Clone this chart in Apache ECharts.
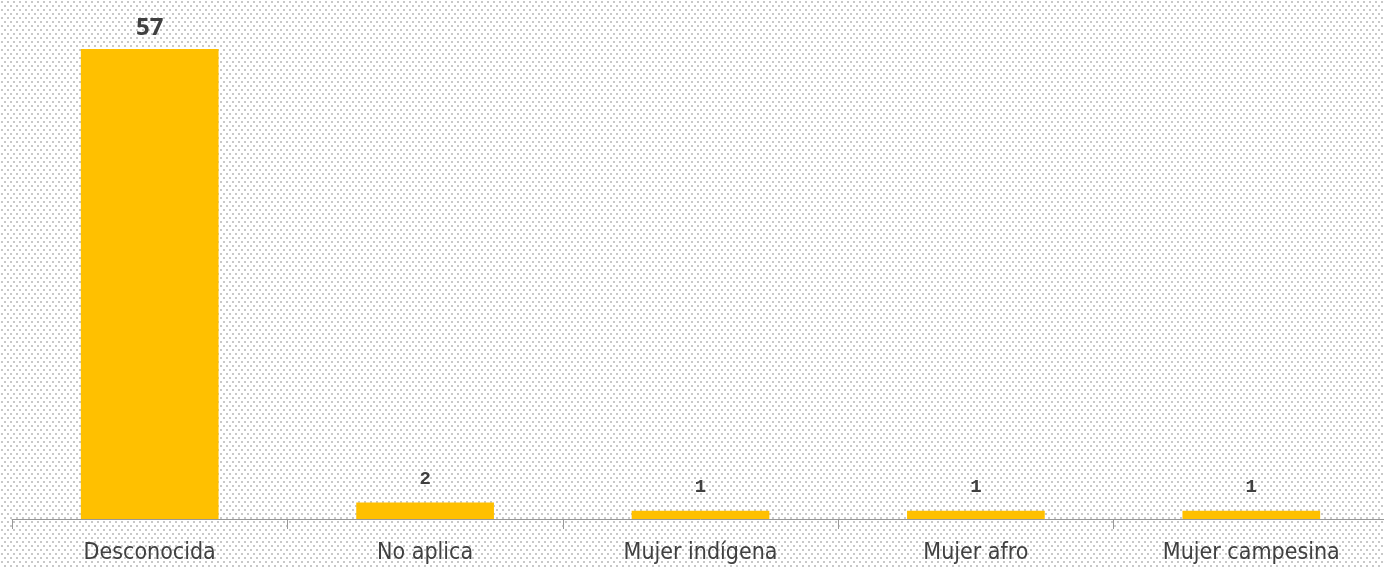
<!DOCTYPE html>
<html>
<head>
<meta charset="utf-8">
<script src="https://cdn.jsdelivr.net/npm/echarts@6/dist/echarts.min.js"></script>
<style>
  html, body { margin: 0; padding: 0; background: #fff; overflow: hidden; }
  #chart { width: 1389px; height: 567px; }
</style>
</head>
<body>
<div id="chart"></div>
<script>
// datos
const categories = ['Desconocida', 'No aplica', 'Mujer indígena', 'Mujer afro', 'Mujer campesina']
const values = [57, 2, 1, 1, 1]

// fondo punteado
const makePattern = () => {
  const c = document.createElement('canvas')
  c.width = 6
  c.height = 8
  const ctx = c.getContext('2d')
  ctx.fillStyle = '#ffffff'
  ctx.fillRect(0, 0, 6, 8)
  ctx.fillStyle = '#c8c8c8'
  ctx.fillRect(1, 1, 2, 2)
  ctx.fillRect(4, 5, 2, 2)
  return c
}

const chart = echarts.init(document.getElementById('chart'))

const seriesData = values.map((v, i) => ({
  value: v,
  label: i === 0
    ? { fontFamily: 'Open Sans', fontSize: 24, fontWeight: 'bold', distance: 9 }
    : { fontFamily: 'Liberation Mono', fontSize: 19, fontWeight: 'bold', distance: 14 }
}))

const option = {
  animation: false,
  backgroundColor: { image: makePattern(), repeat: 'repeat' },
  grid: {
    left: 12,
    top: 49,
    right: 0,
    bottom: 48
  },
  xAxis: {
    type: 'category',
    data: categories,
    axisLine: { lineStyle: { color: '#999999', width: 1 } },
    axisTick: { show: true, length: 10, lineStyle: { color: '#999999' } },
    axisLabel: {
      color: '#404040',
      fontFamily: 'DejaVu Sans Condensed',
      fontSize: 23,
      margin: 23
    }
  },
  yAxis: {
    type: 'value',
    min: 0,
    max: 57,
    show: false,
    splitLine: { show: false }
  },
  series: [{
    type: 'bar',
    data: seriesData,
    barWidth: '50%',
    itemStyle: { color: '#FFC000' },
    label: {
      show: true,
      position: 'top',
      color: '#404040'
    }
  }]
}

chart.setOption(option)
</script>
</body>
</html>
